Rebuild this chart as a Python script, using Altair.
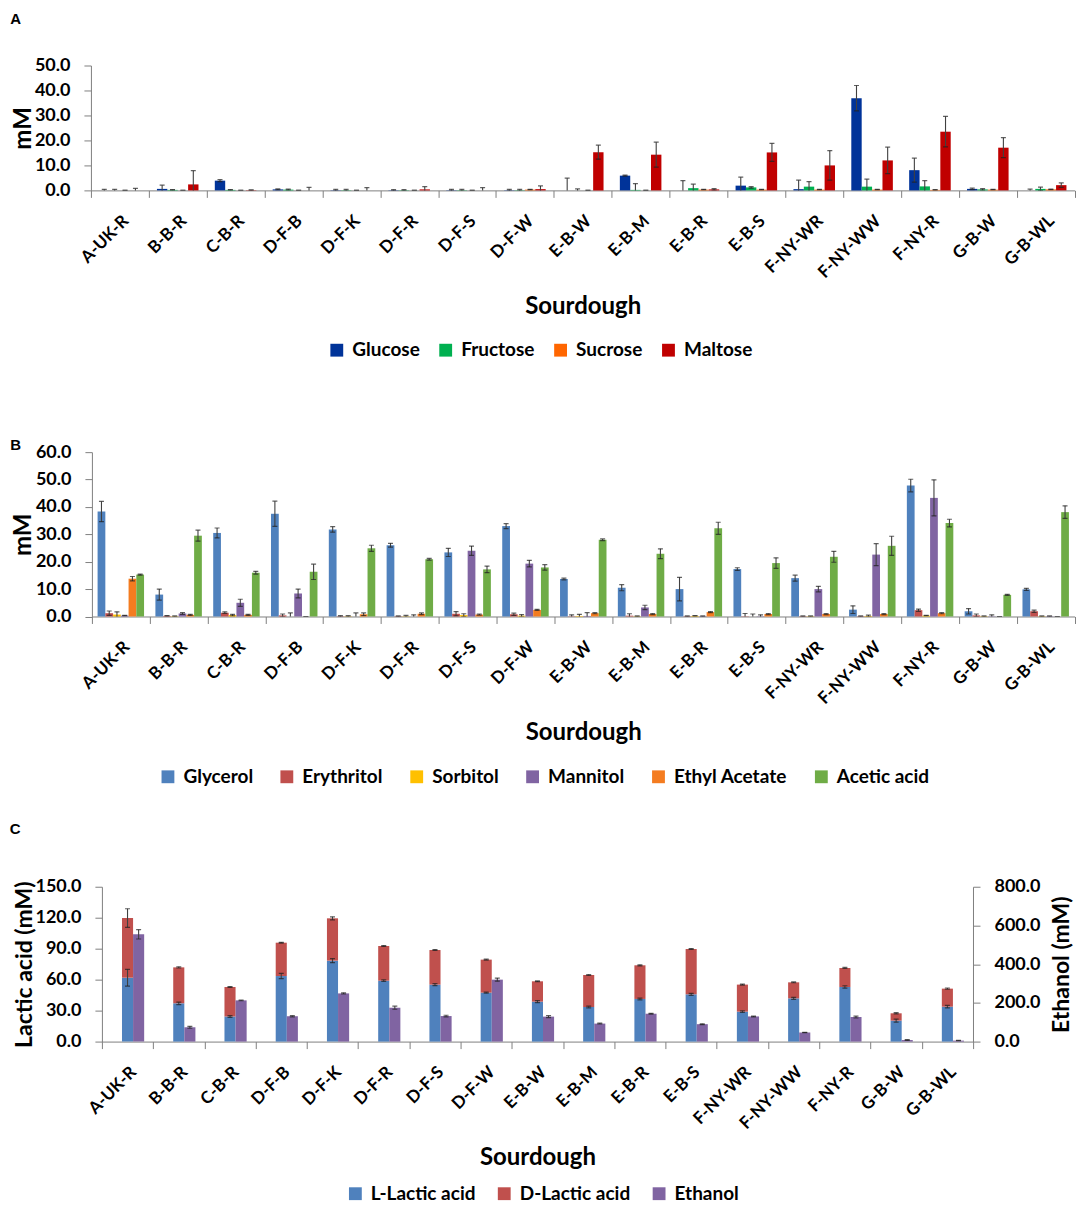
import altair as alt
import pandas as pd

FONT = "Lato"

samples = ["A-UK-R", "B-B-R", "C-B-R", "D-F-B", "D-F-K", "D-F-R", "D-F-S", "D-F-W",
           "E-B-W", "E-B-M", "E-B-R", "E-B-S", "F-NY-WR", "F-NY-WW", "F-NY-R", "G-B-W", "G-B-WL"]

# ---------------- Panel A: sugars (mM) ----------------
sugars = ["Glucose", "Fructose", "Sucrose", "Maltose"]
sugar_colors = ["#003399", "#00B050", "#FF6600", "#C00000"]
glucose = [0.0, 0.6, 3.9, 0.4, 0.1, 0.1, 0.1, 0.1, 0.0, 5.9, 0.0, 1.9, 0.5, 36.9, 8.1, 0.6, 0.0]
glucose_err = [0.4, 1.5, 0.4, 0.2, 0.3, 0.2, 0.3, 0.3, 4.9, 0.2, 3.9, 3.4, 3.6, 5.1, 4.8, 0.3, 0.5]
fructose = [0.0, 0.2, 0.2, 0.3, 0.1, 0.1, 0.1, 0.1, 0.0, 0.2, 0.9, 1.2, 1.5, 1.5, 1.6, 0.4, 0.6]
fructose_err = [0.4, 0.1, 0.1, 0.2, 0.3, 0.2, 0.3, 0.3, 0.6, 2.5, 1.6, 0.3, 2.0, 3.0, 2.3, 0.3, 0.7]
sucrose = [0.0, 0.0, 0.0, 0.0, 0.0, 0.0, 0.0, 0.3, 0.0, 0.0, 0.3, 0.3, 0.3, 0.3, 0.2, 0.3, 0.4]
sucrose_err = [0.0, 0.0, 0.0, 0.0, 0.0, 0.0, 0.0, 0.1, 0.0, 0.0, 0.1, 0.1, 0.1, 0.1, 0.1, 0.1, 0.1]
maltose = [0.0, 2.4, 0.1, 0.0, 0.0, 0.4, 0.0, 0.5, 15.3, 14.3, 0.4, 15.2, 10.0, 12.0, 23.5, 17.1, 2.1]
maltose_err = [0.8, 5.5, 0.1, 1.2, 1.1, 1.1, 1.1, 1.3, 2.8, 5.0, 0.3, 3.6, 5.9, 5.3, 6.1, 4.0, 0.9]

# ---------------- Panel B: polyols / volatiles (mM) ----------------
compounds = ["Glycerol", "Erythritol", "Sorbitol", "Mannitol", "Ethyl Acetate", "Acetic acid"]
compound_colors = ["#4F81BD", "#C0504D", "#FFC000", "#8064A2", "#F47C20", "#6FAC46"]
glycerol = [38.3, 8.0, 30.5, 37.5, 31.8, 26.0, 23.4, 33.0, 13.7, 10.5, 10.0, 17.3, 14.0, 2.5, 47.8, 1.9, 9.9]
glycerol_err = [3.7, 2.0, 1.8, 4.6, 1.0, 0.7, 1.5, 0.9, 0.3, 1.1, 4.3, 0.5, 1.1, 1.4, 2.3, 1.0, 0.4]
erythritol = [1.2, 0.2, 1.4, 0.4, 0.1, 0.1, 1.0, 0.8, 0.1, 0.3, 0.1, 0.1, 0.1, 0.1, 2.3, 0.4, 1.9]
erythritol_err = [0.8, 0.1, 0.3, 0.5, 0.2, 0.1, 0.8, 0.4, 0.5, 0.7, 0.1, 1.0, 0.1, 0.1, 0.4, 0.5, 0.4]
sorbitol = [0.7, 0.1, 0.5, 0.0, 0.1, 0.1, 0.5, 0.3, 0.2, 0.1, 0.2, 0.0, 0.1, 0.2, 0.3, 0.1, 0.1]
sorbitol_err = [1.0, 0.1, 0.3, 1.3, 0.2, 0.3, 0.5, 0.4, 0.6, 0.1, 0.1, 0.9, 0.1, 0.3, 0.1, 0.1, 0.1]
mannitol = [0.3, 1.1, 5.0, 8.4, 0.0, 0.0, 24.0, 19.3, 0.2, 3.3, 0.1, 0.1, 10.0, 22.6, 43.3, 0.1, 0.1]
mannitol_err = [0.1, 0.3, 1.3, 1.6, 1.3, 0.6, 1.7, 1.2, 1.2, 0.8, 0.1, 0.5, 1.0, 4.0, 6.6, 0.5, 0.1]
ethyl_acetate = [13.8, 0.6, 0.6, 0.0, 0.8, 1.0, 0.7, 2.4, 1.2, 0.9, 1.6, 0.9, 0.9, 0.9, 1.2, 0.0, 0.0]
ethyl_acetate_err = [0.8, 0.2, 0.2, 0.0, 0.5, 0.3, 0.2, 0.2, 0.2, 0.2, 0.2, 0.2, 0.2, 0.2, 0.2, 0.0, 0.0]
acetic = [15.3, 29.5, 16.0, 16.3, 24.9, 20.9, 17.2, 17.9, 28.0, 22.9, 32.2, 19.5, 21.8, 25.8, 34.1, 7.9, 38.1]
acetic_err = [0.2, 2.0, 0.5, 2.8, 1.1, 0.3, 1.2, 1.0, 0.3, 1.8, 2.2, 1.9, 2.0, 3.5, 1.4, 0.2, 2.3]

# ---------------- Panel C: lactic acid (left axis) and ethanol (right axis) ----------------
acids = ["L-Lactic acid", "D-Lactic acid", "Ethanol"]
acid_colors = ["#4F81BD", "#C0504D", "#8064A2"]
l_lactic = [61.9, 37.1, 24.3, 63.5, 78.4, 59.0, 55.2, 47.4, 38.7, 33.5, 41.3, 45.8, 29.0, 41.9, 52.9, 20.3, 33.8]
l_lactic_err = [8.1, 1.2, 0.8, 2.5, 2.0, 0.8, 1.0, 0.5, 1.0, 0.8, 0.8, 1.0, 0.8, 1.0, 1.2, 1.5, 1.2]
d_lactic = [57.8, 34.8, 28.6, 32.3, 41.0, 33.6, 33.5, 32.0, 19.7, 31.0, 32.6, 43.9, 26.2, 15.5, 18.4, 7.1, 17.5]
d_lactic_err = [9.0, 0.6, 0.4, 0.4, 1.5, 0.4, 0.4, 0.4, 0.4, 0.5, 0.5, 0.4, 0.5, 0.4, 0.5, 0.6, 0.6]
ethanol = [554, 74, 213, 131, 249, 175, 132, 320, 129, 93, 144, 90, 130, 47, 127, 8, 5]
ethanol_err = [24, 5, 2, 3, 3, 8, 4, 8, 5, 2, 2, 2, 2, 1, 5, 2, 1]

# ---------------- helpers ----------------
common = dict(domainColor="#7F7F7F", tickColor="#7F7F7F", domainWidth=1, tickWidth=1,
              labelFont=FONT, labelFontWeight="bold", labelColor="black",
              titleFont=FONT, titleFontWeight="bold", titleColor="black", grid=False)

one = pd.DataFrame({"k": [0]})
ALL_INDEP = dict(x="independent", y="independent", xOffset="independent", color="independent")


def long_df(field, names, values, errs):
    rows = []
    for name, vals, es in zip(names, values, errs):
        for s, v, e in zip(samples, vals, es):
            rows.append({"Sourdough": s, field: name, "value": v, "lo": v - e, "hi": v + e})
    return pd.DataFrame(rows)


def x_axis(W):
    return alt.Axis(title="Sourdough", labelAngle=315, labelFontSize=17, labelPadding=15,
                    labelOverlap=False, tickBand="extent", tickSize=7,
                    titleFontSize=24, titleX=W / 2, titleY=116, titleAlign="center",
                    titleBaseline="middle", **common)


def y_axis(values, title, title_x, H, orient="left", label_pad=14, title_size=24):
    return alt.Axis(values=values, format=".1f", title=title, orient=orient,
                    labelFontSize=18, tickSize=7, labelPadding=label_pad,
                    titleFontSize=title_size, titleX=title_x, titleY=H / 2, titleAngle=270,
                    titleAlign="center", titleBaseline="middle", **common)


def legend(x, y, colpad):
    return alt.Legend(orient="none", legendX=x, legendY=y, direction="horizontal", title=None,
                      symbolType="square", symbolSize=165, symbolStrokeWidth=0,
                      labelFont=FONT, labelFontSize=19, labelFontWeight="bold", labelColor="black",
                      columnPadding=colpad, labelOffset=6, padding=0)


def frame(left, top, bottom):
    # invisible guide that fixes how far each panel reaches past its plot area
    return alt.Chart(one).mark_rule(strokeOpacity=0).encode(
        x=alt.value(-left), y=alt.value(-top), y2=alt.value(bottom))


def letter(txt, x, y):
    return alt.Chart(one).mark_text(text=txt, font="Liberation Sans", fontSize=15, fontWeight="bold",
                                    align="center", baseline="middle", color="black").encode(
        x=alt.value(x), y=alt.value(y))


def err_layers(df, X, XO, ysc, ax):
    rule = alt.Chart(df).mark_rule(color="#404040", strokeWidth=1.1, clip=True).encode(
        x=X, xOffset=XO, y=alt.Y("lo:Q", scale=ysc, axis=ax), y2="hi:Q")
    cap_lo = alt.Chart(df).mark_tick(color="#202020", thickness=1.2, size=5, orient="horizontal",
                                     clip=True).encode(x=X, xOffset=XO, y=alt.Y("lo:Q", scale=ysc, axis=ax))
    cap_hi = alt.Chart(df).mark_tick(color="#202020", thickness=1.2, size=5, orient="horizontal",
                                     clip=True).encode(x=X, xOffset=XO, y=alt.Y("hi:Q", scale=ysc, axis=ax))
    return [rule, cap_lo, cap_hi]


def spacer():
    return alt.Chart(one).mark_rule(strokeOpacity=0).encode(
        x=alt.value(0), x2=alt.value(1), y=alt.value(0)).properties(width=1, height=1)


def row(panel):
    return alt.hconcat(spacer(), panel, spacing=0).resolve_scale(**ALL_INDEP)


def grouped_panel(df, field, series, colors, ymax, ystep, W, H, po, leg, title_x, fr, let):
    X = alt.X("Sourdough:N", sort=samples, scale=alt.Scale(paddingInner=0, paddingOuter=0), axis=x_axis(W))
    XO = alt.XOffset(f"{field}:N", sort=series,
                     scale=alt.Scale(domain=series, paddingInner=0, paddingOuter=po))
    ysc = alt.Scale(domain=[0, ymax], nice=False)
    yvals = [round(i * ystep, 1) for i in range(int(round(ymax / ystep)) + 1)]
    ax = y_axis(yvals, "mM", title_x, H)
    bars = alt.Chart(df).mark_bar().encode(
        x=X, xOffset=XO, y=alt.Y("value:Q", scale=ysc, axis=ax),
        color=alt.Color(f"{field}:N", scale=alt.Scale(domain=series, range=colors), legend=leg))
    errs = err_layers(df, X, XO, ysc, ax)
    return alt.layer(bars, *errs, fr, let).properties(width=W, height=H)


# Plot areas start at page x = 9 + LEFT (8 px body margin + 1 px spacer)
# ---------------- Panel A ----------------
WA, HA = 984.6, 125
dfA = long_df("Sugar", sugars, [glucose, fructose, sucrose, maltose],
              [glucose_err, fructose_err, sucrose_err, maltose_err])
panelA = grouped_panel(dfA, "Sugar", sugars, sugar_colors, 50, 10, WA, HA, 0.785,
                       legend(236.6, 275.2, 16), -67.4,
                       frame(81.4, 56.3, 335.7), letter("A", -75.4, -47))

# ---------------- Panel B ----------------
WB, HB = 983.6, 164.5
dfB = long_df("Compound", compounds,
              [glycerol, erythritol, sorbitol, mannitol, ethyl_acetate, acetic],
              [glycerol_err, erythritol_err, sorbitol_err, mannitol_err, ethyl_acetate_err, acetic_err])
panelB = grouped_panel(dfB, "Compound", compounds, compound_colors, 60, 10, WB, HB, 0.733,
                       legend(66.6, 315.2, 24), -68.4,
                       frame(82.4, 50.3, 359.7), letter("B", -76.4, -7.3))

# ---------------- Panel C ----------------
WC, HC = 871.9, 155
rows = []
for s, l, le, d, de in zip(samples, l_lactic, l_lactic_err, d_lactic, d_lactic_err):
    rows.append({"Sourdough": s, "Acid": "L-Lactic acid", "slot": "lac", "start": 0, "end": l,
                 "lo": l - le, "hi": l + le})
    rows.append({"Sourdough": s, "Acid": "D-Lactic acid", "slot": "lac", "start": l, "end": l + d,
                 "lo": l + d - de, "hi": l + d + de})
dfL = pd.DataFrame(rows)
dfE = pd.DataFrame({"Sourdough": samples, "Acid": "Ethanol", "slot": "eth", "value": ethanol,
                    "lo": [v - e for v, e in zip(ethanol, ethanol_err)],
                    "hi": [v + e for v, e in zip(ethanol, ethanol_err)]})

XC = alt.X("Sourdough:N", sort=samples, scale=alt.Scale(paddingInner=0, paddingOuter=0), axis=x_axis(WC))
XOC = alt.XOffset("slot:N", scale=alt.Scale(domain=["pad", "lac", "eth"], paddingInner=0, paddingOuter=0.81))
colC = alt.Color("Acid:N", scale=alt.Scale(domain=acids, range=acid_colors), legend=legend(244.2, 297.5, 19))

yscL = alt.Scale(domain=[0, 150], nice=False)
axL = y_axis([0, 30, 60, 90, 120, 150], "Lactic acid (mM)", -77, HC, title_size=23)
yscR = alt.Scale(domain=[0, 800], nice=False)
axR = y_axis([0, 200, 400, 600, 800], "Ethanol (mM)", 88.2, HC, orient="right", title_size=23)

lac_bars = alt.Chart(dfL).mark_bar().encode(
    x=XC, xOffset=XOC, y=alt.Y("start:Q", scale=yscL, axis=axL), y2="end:Q", color=colC)
lac_layer = alt.layer(lac_bars, *err_layers(dfL, XC, XOC, yscL, axL))

eth_bars = alt.Chart(dfE).mark_bar().encode(
    x=XC, xOffset=XOC, y=alt.Y("value:Q", scale=yscR, axis=axR), color=colC)
eth_layer = alt.layer(eth_bars, *err_layers(dfE, XC, XOC, yscR, axR))

panelC = alt.layer(lac_layer, eth_layer, frame(92.8, 75, 317), letter("C", -86.8, -58)).resolve_scale(
    y="independent").properties(width=WC, height=HC)

chart = alt.vconcat(row(panelA), row(panelB), row(panelC), spacing=0).resolve_scale(
    **ALL_INDEP
).properties(padding=0, background="white").configure_view(stroke=None)

chart.save("out.html", embed_options={"renderer": "svg", "actions": False})
